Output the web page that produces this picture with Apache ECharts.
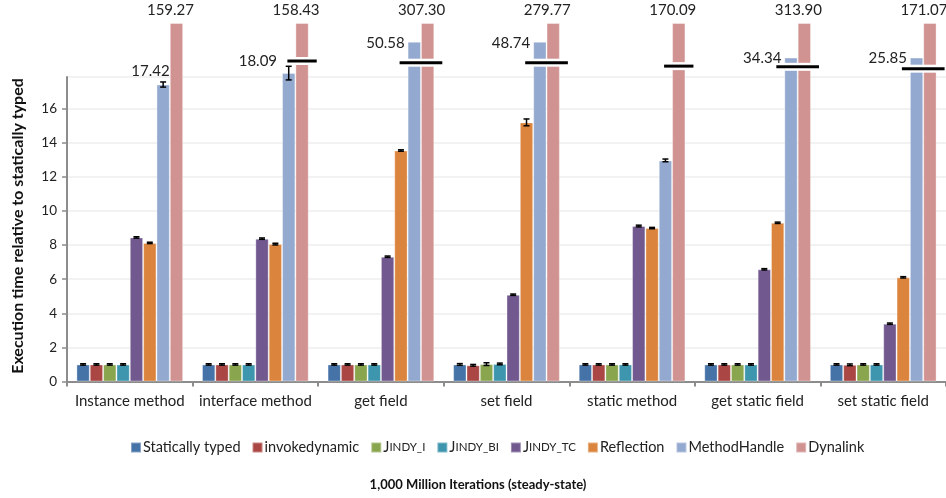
<!DOCTYPE html>
<html>
<head>
<meta charset="utf-8">
<script src="https://cdn.jsdelivr.net/npm/echarts@6/dist/echarts.min.js"></script>
<style>
  html, body { margin: 0; padding: 0; background: #fff; }
  #chart { width: 946px; height: 498px; }
</style>
</head>
<body>
<div id="chart"></div>
<script>
// Benchmark categories and series
const categories = ['Instance method', 'interface method', 'get field', 'set field',
                    'static method', 'get static field', 'set static field'];
const seriesNames = ['Statically typed', 'invokedynamic', 'Jindy_I', 'Jindy_BI',
                     'Jindy_TC', 'Reflection', 'MethodHandle', 'Dynalink'];

// Execution time relative to statically typed
const staticallyTyped = [1.00, 1.00, 1.00, 1.00, 1.00, 1.00, 1.00];
const invokedynamic   = [1.00, 1.00, 1.00, 0.95, 1.00, 1.00, 0.98];
const jindyI          = [1.00, 1.00, 1.00, 1.02, 1.00, 1.00, 1.00];
const jindyBI         = [1.00, 1.00, 1.00, 1.03, 1.00, 1.00, 1.00];
const jindyTC         = [8.45, 8.38, 7.32, 5.09, 9.12, 6.58, 3.39];
const reflection      = [8.13, 8.06, 13.55, 15.20, 9.00, 9.31, 6.11];
const methodHandle    = [17.42, 18.09, 50.58, 48.74, 12.97, 34.34, 25.85];
const dynalink        = [159.27, 158.43, 307.30, 279.77, 170.09, 313.90, 171.07];

// Error bar half-ranges (null = not drawn)
const errStaticallyTyped = [0.04, 0.04, 0.04, 0.05, 0.04, 0.04, 0.04];
const errInvokedynamic   = [0.04, 0.04, 0.04, 0.05, 0.04, 0.04, 0.05];
const errJindyI          = [0.04, 0.04, 0.04, 0.08, 0.04, 0.04, 0.04];
const errJindyBI         = [0.04, 0.04, 0.04, 0.05, 0.04, 0.04, 0.04];
const errJindyTC         = [0.04, 0.04, 0.04, 0.04, 0.05, 0.04, 0.04];
const errReflection      = [0.04, 0.05, 0.04, 0.20, 0.04, 0.04, 0.04];
const errMethodHandle    = [0.15, 0.40, null, null, 0.08, null, null];

// Broken axis: MethodHandle bars that run off the scale are cut at this height
const methodHandleCut = [null, null, 19.93, 19.93, null, 19.0, 19.0];
// Axis-break marker per category: height and first series it crosses
const breakAt   = [null, 18.8, 18.7, 18.7, 18.5, 18.46, 18.35];
const breakFrom = [null, 7, 6, 6, 7, 6, 6];

const colors = ['#4572A7', '#AA4643', '#89A54E', '#3D96AE',
                '#71588F', '#DB843D', '#93A9CF', '#D19392'];

const values = [staticallyTyped, invokedynamic, jindyI, jindyBI, jindyTC,
                reflection, methodHandle, dynalink];
const errors = [errStaticallyTyped, errInvokedynamic, errJindyI, errJindyBI,
                errJindyTC, errReflection, errMethodHandle];

const FONT = 'Lato';
const CAT_GAP = 0.15;
const N = seriesNames.length;

function slotX(api, cat, s) {
  const c = api.coord([cat, 0]);
  const band = api.size([1, 0])[0];
  const gw = band * (1 - CAT_GAP);
  const bw = gw / N;
  return { left: c[0] - gw / 2 + s * bw, bw: bw };
}

const barSeries = seriesNames.map((name, s) => {
  let data;
  if (name === 'MethodHandle') {
    data = methodHandle.map((v, i) => {
      const cut = methodHandleCut[i];
      const shown = cut != null ? Math.min(v, cut) : v;
      const item = { value: shown };
      if (v > 17) {
        if (cut != null) {
          item.label = { show: true, position: [-3, 1], align: 'right', verticalAlign: 'middle' };
        } else if (breakAt[i] != null) {
          // keep clear of the break marker above the bar
          item.label = { show: true, position: [-5, -12], align: 'right', verticalAlign: 'middle' };
        } else {
          item.label = { show: true, position: [-6, -13], align: 'center', verticalAlign: 'middle' };
        }
      }
      return item;
    });
  } else {
    data = values[s].slice();
  }
  const ser = {
    name: name,
    type: 'bar',
    xAxisIndex: 0,
    yAxisIndex: 0,
    data: data,
    barGap: '0%',
    barCategoryGap: (CAT_GAP * 100) + '%',
    itemStyle: { color: colors[s], borderColor: 'rgba(255,255,255,0.35)', borderWidth: 1 },
    label: { show: false, color: '#222', fontSize: 15, fontFamily: FONT,
             formatter: p => values[s][p.dataIndex].toFixed(2) },
    emphasis: { disabled: true },
    z: 2
  };
  if (name === 'Dynalink') {
    ser.label = { show: true, position: 'top', distance: 5, offset: [-6, 0],
                  color: '#222', fontSize: 15, fontFamily: FONT,
                  formatter: p => dynalink[p.dataIndex].toFixed(2) };
  }
  return ser;
});

// error bars
const errData = [];
errors.forEach((arr, s) => {
  arr.forEach((e, i) => {
    if (e != null) errData.push([i, values[s][i], e, s]);
  });
});

const errorSeries = {
  type: 'custom',
  xAxisIndex: 0,
  yAxisIndex: 0,
  data: errData,
  z: 4,
  silent: true,
  renderItem: function (params, api) {
    const cat = api.value(0), v = api.value(1), e = api.value(2), s = api.value(3);
    const sl = slotX(api, cat, s);
    const x = sl.left + sl.bw / 2;
    const hi = api.coord([cat, v + e])[1];
    const lo = api.coord([cat, v - e])[1];
    const hw = 3;
    const st = { stroke: '#000', lineWidth: 1.5 };
    return {
      type: 'group',
      children: [
        { type: 'line', shape: { x1: x, y1: hi, x2: x, y2: lo }, style: st },
        { type: 'line', shape: { x1: x - hw, y1: hi, x2: x + hw, y2: hi }, style: st },
        { type: 'line', shape: { x1: x - hw, y1: lo, x2: x + hw, y2: lo }, style: st }
      ]
    };
  }
};

// axis break markers
const breakData = [];
breakAt.forEach((b, i) => { if (b != null) breakData.push([i, b, breakFrom[i]]); });

const breakSeries = {
  type: 'custom',
  xAxisIndex: 0,
  yAxisIndex: 0,
  data: breakData,
  z: 5,
  silent: true,
  renderItem: function (params, api) {
    const cat = api.value(0), b = api.value(1), from = api.value(2);
    const a = slotX(api, cat, from);
    const z = slotX(api, cat, N);
    const y = api.coord([cat, b])[1];
    const ext = 8;
    return {
      type: 'group',
      children: [
        { type: 'rect', shape: { x: a.left, y: y - 4, width: z.left - a.left, height: 8 },
          style: { fill: '#fff' } },
        { type: 'rect', shape: { x: a.left - ext, y: y - 1.5, width: z.left - a.left + 2 * ext, height: 3 },
          style: { fill: '#000' } }
      ]
    };
  }
};

const chart = echarts.init(document.getElementById('chart'), null, { renderer: 'canvas' });

chart.setOption({
  animation: false,
  textStyle: { fontFamily: FONT },
  grid: [
    // plotting area for bars (extends above the axis for broken bars)
    { left: 67, width: 884, top: 23.5, bottom: 116.5, containLabel: false },
    // visible scale
    { left: 67, width: 884, top: 77, bottom: 116.5, containLabel: false }
  ],
  xAxis: [
    { gridIndex: 0, type: 'category', data: categories, show: false },
    {
      gridIndex: 1, type: 'category', data: categories, boundaryGap: true,
      axisLine: { lineStyle: { color: '#8c8c8c', width: 2 } },
      axisTick: { show: true, alignWithLabel: false, length: 5, lineStyle: { color: '#8c8c8c', width: 2 } },
      axisLabel: { color: '#222', fontSize: 15, margin: 12, fontFamily: FONT, interval: 0 }
    }
  ],
  yAxis: [
    { gridIndex: 0, type: 'value', min: 0, max: 21, show: false },
    {
      gridIndex: 1, type: 'value', min: 0, max: 17.86, interval: 2,
      axisLine: { show: true, lineStyle: { color: '#8c8c8c', width: 2 } },
      axisTick: { show: true, length: 5, lineStyle: { color: '#8c8c8c', width: 1.5 } },
      axisLabel: { color: '#222', fontSize: 13.5, margin: 10, fontFamily: FONT,
                   showMaxLabel: false },
      splitLine: { show: true, lineStyle: { color: '#eeeeee', width: 1.5 } }
    }
  ],
  legend: {
    data: seriesNames,
    left: 125,
    top: 435,
    icon: 'rect',
    itemWidth: 10,
    itemHeight: 10,
    itemGap: 11,
    selectedMode: false,
    textStyle: {
      color: '#222', fontSize: 14.5, fontFamily: FONT, padding: [0, 0, 0, -3],
      rich: {
        j: { fontSize: 14.5, color: '#222', fontFamily: FONT },
        s: { fontSize: 11.5, color: '#222', fontFamily: FONT }
      }
    },
    formatter: function (name) {
      if (name.indexOf('Jindy') === 0) {
        return '{j|J}{s|' + name.slice(1).toUpperCase() + '}';
      }
      return name;
    }
  },
  graphic: [
    {
      type: 'text', x: 18, y: 226, rotation: Math.PI / 2,
      style: { text: 'Execution time relative to statically typed', fill: '#111',
               font: 'bold 16px ' + FONT, align: 'center', verticalAlign: 'middle' }
    },
    {
      type: 'text', x: 478, y: 485,
      style: { text: '1,000 Million Iterations (steady-state)', fill: '#111',
               font: 'bold 13px ' + FONT, align: 'center', verticalAlign: 'middle' }
    }
  ],
  series: barSeries.concat([errorSeries, breakSeries])
});
</script>
</body>
</html>
